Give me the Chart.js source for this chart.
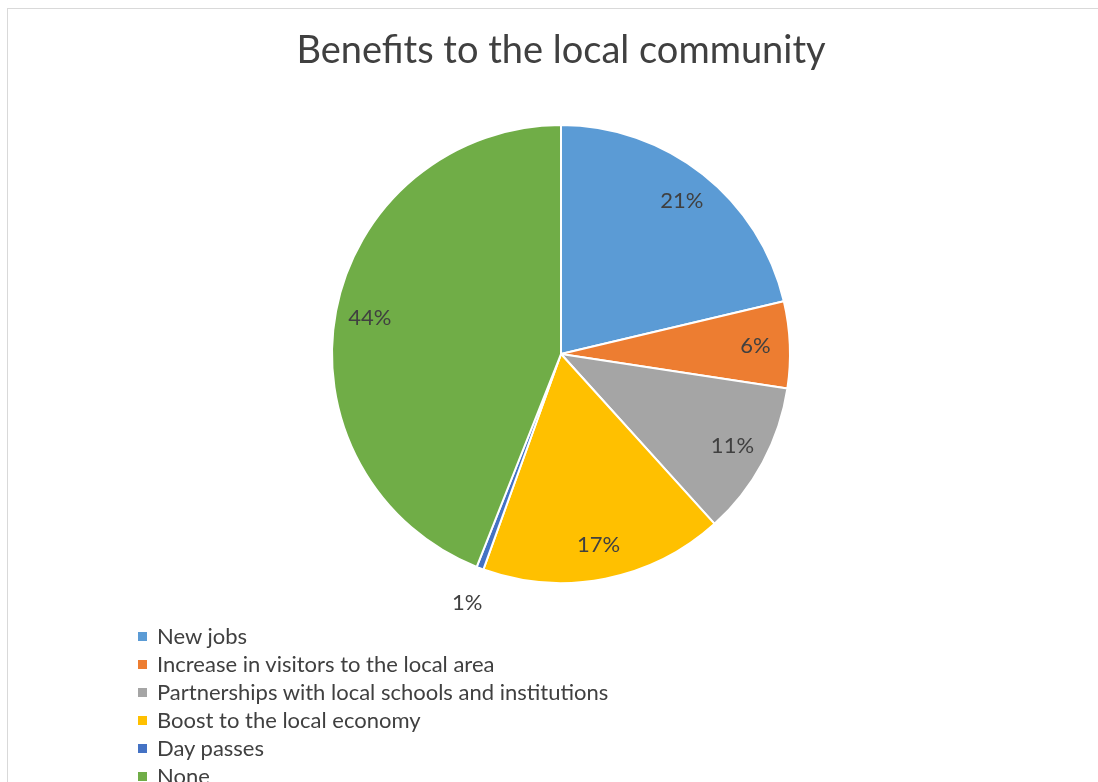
<!DOCTYPE html>
<html>
<head>
<meta charset="utf-8">
<script src="https://cdn.jsdelivr.net/npm/chart.js@4/dist/chart.umd.min.js"></script>
<style>
  html, body { margin: 0; padding: 0; background: #ffffff; }
  #wrap { position: relative; width: 1098px; height: 782px; overflow: hidden; }
  #frame { position: absolute; left: 7px; top: 8px; width: 1100px; height: 800px; border: 1px solid #d9d9d9; box-sizing: border-box; }
  #legend { position: absolute; left: 138px; top: 622px; font-family: Lato, sans-serif; font-size: 22px; color: #404040; }
  #legend div { height: 28px; line-height: 28px; white-space: nowrap; }
  #legend span.box { display: inline-block; width: 9px; height: 9px; margin-right: 10px; vertical-align: 3px; }
</style>
</head>
<body>
<div id="wrap">
  <div id="frame"></div>
  <canvas id="pie" width="1098" height="782"></canvas>
  <div id="legend"></div>
</div>
<script>
// Pie Chart - benefits to the local community
const categories = [
    'New jobs',
    'Increase in visitors to the local area',
    'Partnerships with local schools and institutions',
    'Boost to the local economy',
    'Day passes',
    'None'
];
const shares = [21.3, 6.1, 10.9, 17.2, 0.5, 44.0];
const sliceColors = ['#5b9bd5', '#ed7d31', '#a5a5a5', '#ffc000', '#4472c4', '#70ad47'];

const textColor = '#404040';

// Data labels: inside near the rim, tiny slices outside
const pieLabels = {
    id: 'pieLabels',
    afterDatasetsDraw(chart) {
        const ctx = chart.ctx;
        const meta = chart.getDatasetMeta(0);
        const data = chart.data.datasets[0].data;
        ctx.save();
        ctx.font = '22px Lato, sans-serif';
        ctx.fillStyle = textColor;
        ctx.textAlign = 'center';
        ctx.textBaseline = 'middle';
        meta.data.forEach((arc, i) => {
            const mid = (arc.startAngle + arc.endAngle) / 2;
            const f = data[i] < 2 ? 1.16 : 0.85;
            const x = arc.x + Math.cos(mid) * arc.outerRadius * f;
            const y = arc.y + Math.sin(mid) * arc.outerRadius * f;
            ctx.fillText(Math.round(data[i]) + '%', x, y);
        });
        ctx.restore();
    }
};

const chart = new Chart(document.getElementById('pie'), {
    type: 'pie',
    data: {
        labels: categories,
        datasets: [{
            data: shares,
            backgroundColor: sliceColors,
            borderColor: '#ffffff',
            borderWidth: 2,
            radius: 229
        }]
    },
    options: {
        responsive: false,
        animation: false,
        layout: {
            padding: { top: 0, bottom: 199, left: 24, right: 0 }
        },
        plugins: {
            legend: { display: false },
            tooltip: { enabled: false },
            title: {
                display: true,
                text: 'Benefits to the local community',
                color: textColor,
                font: { family: 'Lato, sans-serif', size: 38, weight: 'normal', lineHeight: 1.2 },
                padding: { top: 28, bottom: 51.4 }
            }
        }
    },
    plugins: [pieLabels]
});

// HTML legend, one item per row
const legendEl = document.getElementById('legend');
categories.forEach((name, i) => {
    const row = document.createElement('div');
    const box = document.createElement('span');
    box.className = 'box';
    box.style.background = sliceColors[i];
    row.appendChild(box);
    row.appendChild(document.createTextNode(name));
    legendEl.appendChild(row);
});
</script>
</body>
</html>
